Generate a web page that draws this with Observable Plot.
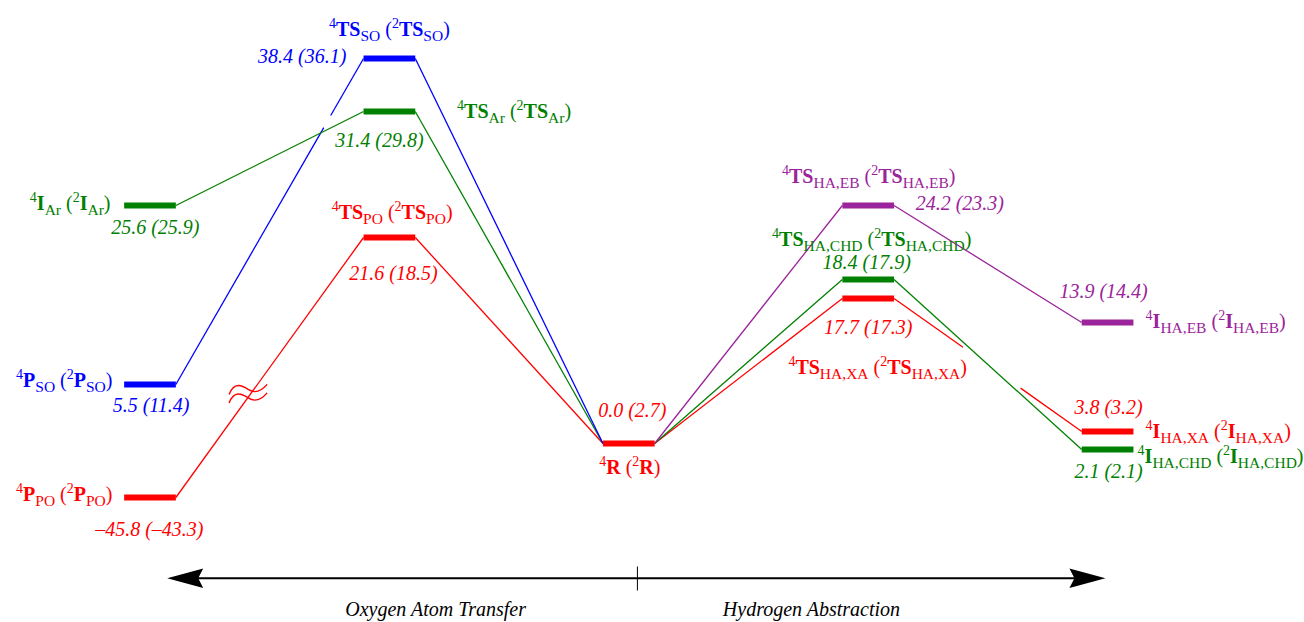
<!DOCTYPE html>
<html><head><meta charset="utf-8">
<script src="https://cdn.jsdelivr.net/npm/d3@7"></script>
<script src="https://cdn.jsdelivr.net/npm/@observablehq/plot@0.6"></script>
<style>html,body{margin:0;padding:0;background:#fff}svg{display:block}</style>
</head><body><div id="chart"></div>
<script>
// ---------- data ----------
const stateIds = ["P_PO","P_SO","I_Ar","TS_PO","TS_Ar","TS_SO","R","TS_HA_XA","TS_HA_CHD","TS_HA_EB","I_HA_XA","I_HA_CHD","I_HA_EB"];
const stateColumn = [0,0,0,1,1,1,2,3,3,3,4,4,4];
// vertical level at which each state is drawn in the diagram (diagram is not to scale)
const drawnLevel = [-5.4,5.9,23.8,20.6,33.2,38.5,0,14.5,16.4,23.8,1.2,-0.6,12.1];
const quartetEnergy = ["\u201345.8","5.5","25.6","21.6","31.4","38.4","0.0","17.7","18.4","24.2","3.8","2.1","13.9"];
const doubletEnergy = ["\u201343.3","11.4","25.9","18.5","29.8","36.1","2.7","17.3","17.9","23.3","3.2","2.1","14.4"];
const stateSymbol = ["P","P","I","TS","TS","TS","R","TS","TS","TS","I","I","I"];
const stateSubscript = ["PO","SO","Ar","PO","Ar","SO","","HA,XA","HA,CHD","HA,EB","HA,XA","HA,CHD","HA,EB"];
const stateFamily = ["PO","SO","Ar","PO","Ar","SO","R","XA","CHD","EB","XA","CHD","EB"];
const familyNames = ["PO","SO","Ar","R","XA","CHD","EB"];
const familyColors = ["#ff0000","#0000ff","#008000","#ff0000","#ff0000","#008000","#9b239b"];

const pathFrom = ["P_PO","P_SO","I_Ar","TS_PO","TS_Ar","TS_SO","R","R","R","TS_HA_XA","TS_HA_CHD","TS_HA_EB"];
const pathTo   = ["TS_PO","TS_SO","TS_Ar","R","R","R","TS_HA_XA","TS_HA_CHD","TS_HA_EB","I_HA_XA","I_HA_CHD","I_HA_EB"];
const pathGapStart = [null,0.788,null,null,null,null,null,null,null,0.367,null,null];
const pathGapEnd   = [null,0.825,null,null,null,null,null,null,null,0.674,null,null];
const axisBreakPath = "P_PO";   // the path carrying the axis-break symbol
const axisBreakAt = 0.385;

const sectionLabels = ["Oxygen Atom Transfer","Hydrogen Abstraction"];
const sectionCenter = [1.193, 2.763];

// ---------- layout (style) ----------
const barHalf = 0.108;
const PX_X = 239.4, PX_Y = 10;   // pixels per diagram unit
const nameAnchor = ["end","end","end","middle","start","middle","middle","middle","middle","middle","start","start","start"];
const nameDx = [-37.5,-37.5,-39.5,2.7,67.7,0,1,9.5,3.5,0.5,38,30,38];
const nameDy = [3.7,2.7,4,-18.7,6,-22.3,30,75,-33.5,-22.3,6,13,5];
const valueAnchor = ["end","end","end","middle","middle","end","middle","middle","middle","start","middle","middle","middle"];
const valueDx = [53.5,39.5,49.5,4,-10,-43,3.5,0,-1.5,47.5,1,1,-4];
const valueDy = [38,27,28,42.3,35.5,4,-26.3,35,-10.3,4.7,-18,28,-25];

const colorOf = f => familyColors[familyNames.indexOf(f)];
const states = stateIds.map((id,i) => ({
  id, col: stateColumn[i], lvl: drawnLevel[i], color: colorOf(stateFamily[i]),
  name: `^4|*${stateSymbol[i]}|${stateSubscript[i] ? "_" + stateSubscript[i] + "|" : ""} (|^2|*${stateSymbol[i]}|${stateSubscript[i] ? "_" + stateSubscript[i] + "|" : ""})`,
  value: `${quartetEnergy[i]} (${doubletEnergy[i]})`,
  nameX: stateColumn[i] + nameDx[i]/PX_X, nameY: drawnLevel[i] - nameDy[i]/PX_Y, nameAnchor: nameAnchor[i],
  valueX: stateColumn[i] + valueDx[i]/PX_X, valueY: drawnLevel[i] - valueDy[i]/PX_Y, valueAnchor: valueAnchor[i]
}));
const byId = Object.fromEntries(states.map(s => [s.id, s]));

const segments = [];
let breakPoint = null;
pathFrom.forEach((f, i) => {
  const a = byId[f], b = byId[pathTo[i]];
  const color = a.id === "R" ? b.color : a.color;
  const x1 = a.col + barHalf, y1 = a.lvl, x2 = b.col - barHalf, y2 = b.lvl;
  const at = t => [x1 + (x2 - x1) * t, y1 + (y2 - y1) * t];
  if (pathGapStart[i] != null) {
    const p = at(pathGapStart[i]), q = at(pathGapEnd[i]);
    segments.push({x1, y1, x2: p[0], y2: p[1], color});
    segments.push({x1: q[0], y1: q[1], x2, y2, color});
  } else segments.push({x1, y1, x2, y2, color});
  if (f === axisBreakPath) { const p = at(axisBreakAt); breakPoint = {x: p[0], y: p[1], color}; }
});

// section axis
const axisLevel = -13.47, axisLeft = 0.0718, axisRight = 3.991, axisTick = 2.036;

// ---------- custom symbols ----------
const arrowHead = { draw(c) { c.moveTo(0,0); c.lineTo(36,-9.7); c.lineTo(31,0); c.lineTo(36,9.7); c.closePath(); } };
const breakSymbol = { draw(c) {
  for (const o of [0, 8.5]) {
    c.moveTo(-19, 1 + o - 4);
    c.bezierCurveTo(-14, -12 + o - 4, -6, -8 + o - 4, 0, -4 + o - 4);
    c.bezierCurveTo(6, 0 + o - 4, 13, -2 + o - 4, 19, -9 + o - 4);
  }
} };

const serif = "'Liberation Serif', 'Times New Roman', serif";
const textMarks = [];
for (const anchor of ["start","middle","end"]) {
  textMarks.push(Plot.text(states.filter(s => s.nameAnchor === anchor), {
    x: "nameX", y: "nameY", text: "name", fill: "color", textAnchor: anchor, lineAnchor: "bottom",
    fontSize: 20, fontFamily: serif
  }));
  textMarks.push(Plot.text(states.filter(s => s.valueAnchor === anchor), {
    x: "valueX", y: "valueY", text: "value", fill: "color", textAnchor: anchor, lineAnchor: "bottom",
    fontSize: 20, fontFamily: serif, fontStyle: "italic"
  }));
}

const chart = Plot.plot({
  width: 1304, height: 622, margin: 0,
  x: {domain: [-0.6245, 4.8225], axis: null},
  y: {domain: [-17.9, 44.3], axis: null},
  color: {type: "identity"},
  style: {background: "#fff", fontFamily: serif},
  marks: [
    Plot.link(segments, {x1: "x1", y1: "y1", x2: "x2", y2: "y2", stroke: "color", strokeWidth: 1.3}),
    Plot.link(states, {x1: d => d.col - barHalf, x2: d => d.col + barHalf, y1: "lvl", y2: "lvl", stroke: "color", strokeWidth: 6}),
    Plot.dot([breakPoint], {x: "x", y: "y", symbol: breakSymbol, r: 10, stroke: "color", fill: "none", strokeWidth: 1.4}),
    ...textMarks,
    // section axis
    Plot.link([{a: axisLeft + 0.05, b: axisRight - 0.05}], {x1: "a", x2: "b", y1: axisLevel, y2: axisLevel, stroke: "black", strokeWidth: 2}),
    Plot.link([axisTick], {x1: d => d, x2: d => d, y1: -12.3, y2: -14.7, stroke: "black", strokeWidth: 1}),
    Plot.dot([{x: axisLeft, r: 0}, {x: axisRight, r: 180}], {x: "x", y: axisLevel, rotate: "r", symbol: arrowHead, r: 10, fill: "black", stroke: "none"}),
    Plot.text(sectionLabels, {x: (d, i) => sectionCenter[i], y: -17.2, text: d => d, lineAnchor: "bottom", fontSize: 20, fontStyle: "italic", fontFamily: serif, fill: "black"})
  ]
});

// rich text: ^sup, _sub, *bold
const NS = "http://www.w3.org/2000/svg";
chart.querySelectorAll("text").forEach(t => {
  const s = t.textContent;
  if (!s.includes("|")) return;
  t.textContent = "";
  let shift = 0;
  for (const tok of s.split("|")) {
    if (!tok) continue;
    const sp = document.createElementNS(NS, "tspan");
    let txt = tok, target = 0;
    if (tok[0] === "^") { txt = tok.slice(1); target = -8; sp.setAttribute("font-size", 14); }
    else if (tok[0] === "_") { txt = tok.slice(1); target = 5; sp.setAttribute("font-size", 15.5); }
    else if (tok[0] === "*") { txt = tok.slice(1); sp.setAttribute("font-weight", "bold"); }
    sp.setAttribute("dy", target - shift); shift = target;
    sp.textContent = txt;
    t.appendChild(sp);
  }
});
document.getElementById("chart").appendChild(chart);
</script></body></html>
